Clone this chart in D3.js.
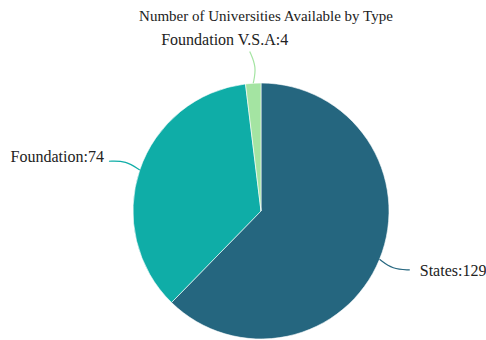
<!DOCTYPE html>
<html>
<head>
<meta charset="utf-8">
<script src="https://cdn.jsdelivr.net/npm/d3@7"></script>
<style>
  body { margin: 0; background: #fff; }
  text { font-family: "Liberation Serif", "Times New Roman", serif; fill: #222; }
</style>
</head>
<body>
<div id="chart"></div>
<script>
// pie of university types
const categories = ["States", "Foundation", "Foundation V.S.A"];
const counts = [129, 74, 4];
const sliceColors = ["#25667f", "#0fada7", "#a4e4a2"];

const width = 486, height = 340;
const cx = 261, cy = 211, radius = 128;

const svg = d3.select("#chart").append("svg")
    .attr("width", width)
    .attr("height", height);

svg.append("rect")
    .attr("width", "100%")
    .attr("height", "100%")
    .attr("fill", "#ffffff");

// title
svg.append("text")
    .attr("x", 266)
    .attr("y", 21)
    .attr("text-anchor", "middle")
    .style("font-size", "15px")
    .text("Number of Universities Available by Type");

const data = categories.map((c, i) => ({name: c, value: counts[i], color: sliceColors[i]}));

const pie = d3.pie().sort(null).value(d => d.value);
const arc = d3.arc().innerRadius(0).outerRadius(radius);
const arcs = pie(data);

const g = svg.append("g").attr("transform", `translate(${cx},${cy})`);

g.selectAll("path.slice")
    .data(arcs)
    .enter()
    .append("path")
    .attr("class", "slice")
    .attr("d", arc)
    .attr("fill", d => d.data.color)
    .attr("stroke", "#ffffff")
    .attr("stroke-width", 0.6);

// label lines, slightly bent
function pt(a, r) { return [r * Math.sin(a), -r * Math.cos(a)]; }
const lineGen = d3.line().curve(d3.curveBasis);

arcs.forEach(d => {
    const mid = (d.startAngle + d.endAngle) / 2;
    const p0 = pt(mid, radius);
    const p1 = pt(mid + 0.03, radius + 16);
    const p2 = pt(mid - 0.01, radius + 32);
    g.append("path")
        .attr("d", lineGen([p0, p1, p2]))
        .attr("fill", "none")
        .attr("stroke", d.data.color)
        .attr("stroke-width", 1.2);

    const label = g.append("text")
        .style("font-size", "16px")
        .text(`${d.data.name}:${d.data.value}`);
    if (Math.abs(p2[0]) < 40) {
        label.attr("x", p2[0] - 25).attr("y", p2[1] - 6).attr("text-anchor", "middle");
    } else if (p2[0] > 0) {
        label.attr("x", p2[0] + 10).attr("y", p2[1] + 6).attr("text-anchor", "start");
    } else {
        label.attr("x", p2[0] - 5).attr("y", p2[1] + 1).attr("text-anchor", "end");
    }
});
</script>
</body>
</html>
